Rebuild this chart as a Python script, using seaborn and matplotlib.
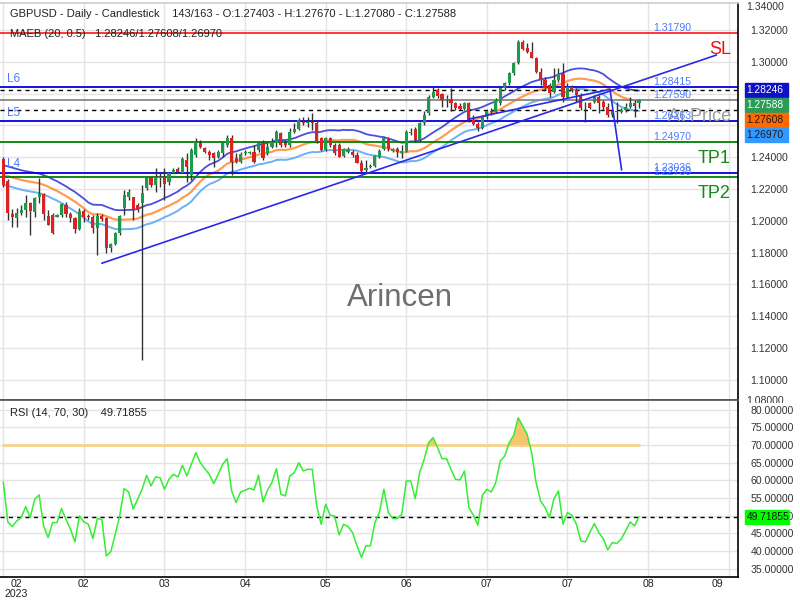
import numpy as np
import pandas as pd
import matplotlib
matplotlib.use("Agg")
import matplotlib.pyplot as plt
import seaborn as sns
from matplotlib.patches import Rectangle
from matplotlib.ticker import FuncFormatter
from matplotlib.transforms import blended_transform_factory, Bbox

# ---------------- data ----------------
opens = [1.2387, 1.2253, 1.2043, 1.2016, 1.2051, 1.2068, 1.2110, 1.2056, 1.2152, 1.2169,
         1.2030, 1.2037, 1.2026, 1.2037, 1.2100, 1.2043, 1.2016, 1.1947, 1.2064, 1.2030,
         1.2026, 1.1953, 1.2030, 1.2016, 1.1827, 1.1854, 1.1921, 1.2079, 1.2152, 1.2148,
         1.2100, 1.2110, 1.2204, 1.2267, 1.2225, 1.2269, 1.2273, 1.2246, 1.2303, 1.2324,
         1.2303, 1.2382, 1.2288, 1.2414, 1.2491, 1.2456, 1.2435, 1.2429, 1.2403, 1.2424,
         1.2477, 1.2523, 1.2393, 1.2372, 1.2424, 1.2429, 1.2433, 1.2445, 1.2491, 1.2424,
         1.2466, 1.2487, 1.2550, 1.2487, 1.2477, 1.2561, 1.2575, 1.2623, 1.2617, 1.2623,
         1.2617, 1.2519, 1.2445, 1.2519, 1.2477, 1.2477, 1.2408, 1.2435, 1.2435, 1.2414,
         1.2366, 1.2320, 1.2336, 1.2345, 1.2403, 1.2450, 1.2519, 1.2441, 1.2450, 1.2429,
         1.2441, 1.2550, 1.2575, 1.2508, 1.2613, 1.2676, 1.2781, 1.2823, 1.2796, 1.2762,
         1.2766, 1.2739, 1.2724, 1.2703, 1.2739, 1.2634, 1.2607, 1.2585, 1.2650, 1.2690,
         1.2682, 1.2739, 1.2834, 1.2865, 1.2928, 1.2991, 1.3122, 1.3085, 1.3064, 1.3026,
         1.2934, 1.2886, 1.2854, 1.2808, 1.2886, 1.2921, 1.2781, 1.2844, 1.2823, 1.2792,
         1.2718, 1.2739, 1.2750, 1.2781, 1.2750, 1.2718, 1.2666, 1.2691, 1.2682, 1.2697,
         1.2718, 1.2739, 1.27403]
highs = [1.2399, 1.2261, 1.2072, 1.2079, 1.2100, 1.2162, 1.2120, 1.2152, 1.2267, 1.2173,
         1.2068, 1.2047, 1.2041, 1.2110, 1.2120, 1.2058, 1.2026, 1.2079, 1.2072, 1.2041,
         1.2037, 1.2047, 1.2040, 1.2026, 1.1859, 1.1932, 1.2037, 1.2194, 1.2200, 1.2152,
         1.2110, 1.2225, 1.2278, 1.2278, 1.2330, 1.2299, 1.2330, 1.2309, 1.2330, 1.2341,
         1.2403, 1.2424, 1.2456, 1.2519, 1.2508, 1.2466, 1.2445, 1.2435, 1.2445, 1.2498,
         1.2540, 1.2540, 1.2424, 1.2435, 1.2445, 1.2440, 1.2477, 1.2498, 1.2508, 1.2487,
         1.2519, 1.2571, 1.2561, 1.2508, 1.2582, 1.2613, 1.2644, 1.2655, 1.2655, 1.2676,
         1.2634, 1.2529, 1.2529, 1.2529, 1.2487, 1.2487, 1.2456, 1.2466, 1.2445, 1.2435,
         1.2382, 1.2382, 1.2355, 1.2414, 1.2450, 1.2529, 1.2529, 1.2456, 1.2466, 1.2477,
         1.2571, 1.2582, 1.2592, 1.2623, 1.2692, 1.2790, 1.2844, 1.2834, 1.2802, 1.2792,
         1.2834, 1.2750, 1.2739, 1.2750, 1.2750, 1.2665, 1.2624, 1.2660, 1.2700, 1.2712,
         1.2770, 1.2840, 1.2875, 1.2935, 1.2998, 1.3137, 1.3137, 1.3116, 1.3127, 1.3033,
         1.2959, 1.2907, 1.2865, 1.2959, 1.2959, 1.2991, 1.2865, 1.2854, 1.2834, 1.2802,
         1.2750, 1.2750, 1.2792, 1.2792, 1.2760, 1.2739, 1.2697, 1.2750, 1.2708, 1.2739,
         1.2781, 1.2760, 1.27670]
lows = [1.2215, 1.2005, 1.1963, 1.1963, 1.2037, 1.2026, 1.1911, 1.2026, 1.2110, 1.2005,
        1.1972, 1.1917, 1.2022, 1.2026, 1.2026, 1.1995, 1.1921, 1.1942, 1.1995, 1.2005,
        1.1921, 1.1785, 1.2000, 1.1796, 1.1806, 1.1848, 1.1911, 1.2037, 1.2130, 1.2005,
        1.2058, 1.1124, 1.2194, 1.2215, 1.2183, 1.2215, 1.2131, 1.2225, 1.2299, 1.2299,
        1.2299, 1.2246, 1.2257, 1.2403, 1.2456, 1.2424, 1.2382, 1.2341, 1.2395, 1.2403,
        1.2466, 1.2288, 1.2361, 1.2366, 1.2414, 1.2420, 1.2361, 1.2435, 1.2382, 1.2414,
        1.2456, 1.2466, 1.2466, 1.2466, 1.2466, 1.2550, 1.2571, 1.2602, 1.2592, 1.2571,
        1.2487, 1.2441, 1.2441, 1.2466, 1.2414, 1.2399, 1.2403, 1.2424, 1.2403, 1.2361,
        1.2303, 1.2309, 1.2330, 1.2336, 1.2393, 1.2445, 1.2441, 1.2435, 1.2403, 1.2393,
        1.2435, 1.2540, 1.2498, 1.2498, 1.2602, 1.2665, 1.2771, 1.2771, 1.2718, 1.2718,
        1.2691, 1.2697, 1.2697, 1.2697, 1.2623, 1.2603, 1.2565, 1.2578, 1.2640, 1.2665,
        1.2675, 1.2730, 1.2825, 1.2855, 1.2920, 1.2984, 1.3074, 1.3053, 1.3022, 1.2928,
        1.2854, 1.2823, 1.2781, 1.2802, 1.2875, 1.2750, 1.2771, 1.2813, 1.2750, 1.2697,
        1.2624, 1.2703, 1.2739, 1.2676, 1.2697, 1.2655, 1.2655, 1.2613, 1.2676, 1.2682,
        1.2708, 1.2655, 1.27080]
closes = [1.2225, 1.2047, 1.2026, 1.2047, 1.2068, 1.2114, 1.2064, 1.2141, 1.2169, 1.2041,
          1.1976, 1.1921, 1.2035, 1.2104, 1.2041, 1.2020, 1.1947, 1.2064, 1.2026, 1.2022,
          1.1953, 1.2030, 1.2010, 1.1827, 1.1852, 1.1921, 1.2030, 1.2162, 1.2180, 1.2068,
          1.2068, 1.2173, 1.2267, 1.2225, 1.2273, 1.2273, 1.2232, 1.2299, 1.2320, 1.2309,
          1.2387, 1.2341, 1.2445, 1.2498, 1.2462, 1.2435, 1.2414, 1.2393, 1.2435, 1.2487,
          1.2523, 1.2372, 1.2372, 1.2420, 1.2433, 1.2433, 1.2372, 1.2487, 1.2393, 1.2466,
          1.2498, 1.2561, 1.2477, 1.2477, 1.2561, 1.2575, 1.2634, 1.2613, 1.2623, 1.2613,
          1.2498, 1.2445, 1.2519, 1.2477, 1.2424, 1.2403, 1.2450, 1.2450, 1.2414, 1.2366,
          1.2315, 1.2330, 1.2345, 1.2408, 1.2441, 1.2519, 1.2450, 1.2450, 1.2435, 1.2441,
          1.2561, 1.2561, 1.2508, 1.2613, 1.2665, 1.2781, 1.2813, 1.2787, 1.2760, 1.2766,
          1.2739, 1.2708, 1.2703, 1.2743, 1.2634, 1.2607, 1.2582, 1.2650, 1.2690, 1.2682,
          1.2760, 1.2834, 1.2865, 1.2928, 1.2991, 1.3122, 1.3081, 1.3064, 1.3026, 1.2934,
          1.2886, 1.2834, 1.2802, 1.2886, 1.2921, 1.2781, 1.2844, 1.2823, 1.2792, 1.2712,
          1.2714, 1.2712, 1.2781, 1.2739, 1.2718, 1.2666, 1.2691, 1.2682, 1.2697, 1.2718,
          1.2739, 1.2724, 1.27588]

# MAEB middle line for the first bars (before 20 closes are available in the window)
maeb_head = [1.2288, 1.2281, 1.2273, 1.2265, 1.2257, 1.2251, 1.2246, 1.2241, 1.2236, 1.2226,
             1.2215, 1.2201, 1.2188, 1.2172, 1.2156, 1.2138, 1.2121, 1.2100, 1.2079]
maeb_period = 20
maeb_pct = 0.5
maeb_last = [1.28246, 1.27608, 1.26970]   # upper / middle / lower shown in legend

rsi = [59.53, 48.21, 46.89, 48.49, 49.43, 52.55, 49.43, 54.62, 55.85, 47.08,
       43.77, 48.02, 48.02, 51.98, 48.96, 46.13, 42.55, 49.91, 48.21, 47.55,
       43.49, 49.15, 48.96, 38.58, 39.72, 44.72, 49.91, 57.64, 56.70, 51.79,
       54.62, 57.45, 61.42, 58.40, 60.94, 60.75, 57.45, 60.28, 61.70, 60.94,
       64.25, 61.23, 64.53, 67.83, 65.00, 63.30, 61.70, 59.06, 61.70, 64.53,
       66.13, 56.98, 53.68, 56.70, 57.17, 57.74, 57.26, 61.42, 53.87, 57.17,
       59.34, 63.30, 56.04, 55.57, 61.23, 62.17, 65.00, 62.64, 63.11, 63.11,
       52.74, 47.55, 53.21, 50.09, 49.91, 44.53, 47.55, 46.89, 45.19, 41.42,
       38.11, 41.42, 41.42, 48.02, 50.85, 57.45, 50.85, 49.15, 49.15, 50.38,
       59.81, 59.81, 54.81, 62.17, 65.94, 70.66, 72.08, 69.25, 66.13, 66.13,
       63.11, 60.28, 60.09, 62.64, 52.26, 50.09, 47.26, 55.75, 57.45, 56.70,
       59.34, 65.47, 66.89, 70.66, 72.74, 77.74, 75.38, 73.02, 67.83, 59.34,
       54.15, 52.26, 49.43, 54.81, 56.98, 47.55, 50.85, 50.09, 47.55, 42.83,
       42.55, 45.19, 47.74, 45.19, 43.49, 40.28, 42.36, 42.08, 43.30, 45.66,
       48.21, 47.08, 49.71855]
rsi_last = 49.71855
rsi_upper = 70

level_names = ["SL", "L6", "At Price", "L5", "TP1", "L4", "TP2"]
level_values = [1.31790, 1.28415, 1.27590, 1.26263, 1.24970, 1.23036, 1.22730]

# trend lines: (bar index, price) end points
trend_a = [(22.0, 1.1733), (159.3, 1.3043)]
trend_b = [(104.0, 1.2640), (135.5, 1.2827)]
trend_c = [(135.5, 1.2827), (138.1, 1.2320)]

x_labels = ["02\n2023", "02", "03", "04", "05", "06", "07", "07", "08", "09"]
x_grid = list(range(0, 163, 18))
x_label_pos = [2.9, 18, 36, 54, 72, 90, 108, 126, 144, 159.6]

title_text = "GBPUSD - Daily - Candlestick    143/163 - O:1.27403 - H:1.27670 - L:1.27080 - C:1.27588"

# ---------------- derived series ----------------
n = len(closes)
df = pd.DataFrame({"i": np.arange(n), "open": opens, "high": highs,
                   "low": lows, "close": closes, "rsi": rsi})
sma = df["close"].rolling(maeb_period).mean().to_numpy()
mid = np.concatenate([maeb_head, sma[len(maeb_head):]])
df["mid"] = mid
df["upper"] = mid * (1 + maeb_pct / 100)
df["lower"] = mid * (1 - maeb_pct / 100)

# ---------------- figure ----------------
sns.set_theme(style="white")
plt.rcParams["font.family"] = ["Liberation Sans", "DejaVu Sans"]

W, H = 800, 600
fig = plt.figure(figsize=(8, 6), dpi=100)
def fx(px): return px / W
def fy(py): return 1 - py / H

ax = fig.add_axes([0, fy(400), fx(738), fy(3) - fy(400)])
rax = fig.add_axes([0, fy(577), fx(738), fy(400) - fy(577)])

XMIN, XMAX = -0.74, 164.1
GRID = "#e4e4e4"
GREEN, RED = "#1f9a4c", "#dd2222"
LBLUE_TXT = "#4d79ff"

for a in (ax, rax):
    a.set_xlim(XMIN, XMAX)
    a.set_xticks(x_grid)
    a.set_xticklabels([])
    a.tick_params(axis="x", length=0)
    a.grid(True, color=GRID, lw=1)
    a.set_axisbelow(True)
    a.yaxis.tick_right()
    a.tick_params(axis="y", length=0, pad=9, labelsize=7.6, labelcolor="#333333")
    a.yaxis.set_major_formatter(FuncFormatter(lambda v, p: f"{v:.5f}"))
    a.spines["left"].set_visible(False)

ax.set_ylim(1.0873, 1.337)
ax.set_yticks(np.round(np.arange(1.10, 1.3301, 0.02), 2))
ax.spines["right"].set_color("black")
ax.spines["right"].set_linewidth(1.2)
ax.spines["top"].set_color("#cfcfcf")
ax.spines["bottom"].set_color("#555555")

# MAEB envelope
sns.lineplot(data=df, x="i", y="upper", ax=ax, color="#3a3ad8", lw=1.3, alpha=0.9, zorder=2)
sns.lineplot(data=df, x="i", y="mid", ax=ax, color="#ff8a35", lw=1.6, alpha=0.85, zorder=2)
sns.lineplot(data=df, x="i", y="lower", ax=ax, color="#5aaaf5", lw=1.4, alpha=0.9, zorder=2)
ax.set_xlabel(""); ax.set_ylabel("")

# horizontal levels
lvl_style = {
    "SL": dict(color="#ff0000", lw=1.1),
    "L6": dict(color="#0000dd", lw=1.3),
    "At Price": dict(color="#888888", lw=1.3),
    "L5": dict(color="#0000dd", lw=1.3),
    "TP1": dict(color="#008000", lw=1.3),
    "L4": dict(color="#0000dd", lw=1.3),
    "TP2": dict(color="#008000", lw=1.3),
}
for name, v in zip(level_names, level_values):
    ax.axhline(v, zorder=2.5, **lvl_style[name])
    ax.annotate(f"{v:.5f}", (145.1, v), xytext=(0, 0), textcoords="offset points",
                ha="left", va="bottom", fontsize=7.6, color=LBLUE_TXT, zorder=6)
    if name in ("L4", "L5", "L6"):
        ax.annotate(name, (0.9, v), xytext=(0, 1.5), textcoords="offset points",
                    ha="left", va="bottom", fontsize=8.5, color=LBLUE_TXT, zorder=6)
    if name in ("SL", "TP1", "TP2", "At Price"):
        col = {"SL": "#ee1111", "TP1": "#138a13", "TP2": "#138a13", "At Price": "#9a9a9a"}[name]
        ax.annotate(name, (162.5, v), xytext=(0, -5.6), textcoords="offset points",
                    ha="right", va="top", fontsize=13, color=col, zorder=6)

# MAEB last values dashed
for v in (maeb_last[0], maeb_last[2]):
    ax.axhline(v, color="black", lw=1, ls=(0, (3, 3)), zorder=2.6)

# candles
up = df["close"] >= df["open"]
cols = np.where(up, GREEN, RED)
ax.vlines(df["i"], df["low"], df["high"], color="#333333", lw=1.0, zorder=3)
body_h = np.maximum((df["close"] - df["open"]).abs(), 0.00012)
ax.bar(df["i"], body_h, bottom=np.minimum(df["open"], df["close"]), width=0.7,
       color=cols, linewidth=0, zorder=4)

# trend lines
for tl in (trend_a, trend_b, trend_c):
    (x0, y0), (x1, y1) = tl
    ax.plot([x0, x1], [y0, y1], color="#2a2ae6", lw=1.2, zorder=5)

# watermark
fig.text(fx(400), fy(298), "Arincen", ha="center", va="center", fontsize=22.5, color="#6e6e6e")

# headers
fig.text(fx(10), fy(14), title_text, ha="left", va="center", fontsize=8, color="#222222")
fig.text(fx(10), fy(34), f"MAEB ({maeb_period}, {maeb_pct})   "
         f"{maeb_last[0]:.5f}/{maeb_last[1]:.5f}/{maeb_last[2]:.5f}",
         ha="left", va="center", fontsize=8, color="#222222", zorder=1)
fig.text(fx(746), fy(7), "1.34000", ha="left", va="center", fontsize=7.6, color="#333333")
t108 = fig.text(fx(746), fy(401), "1.08000", ha="left", va="center", fontsize=7.6, color="#333333")
t108.set_clip_box(Bbox.from_extents(0, H - 403, W, H))
t108.set_clip_on(True)

# right value boxes
boxes = [(maeb_last[0], "#1010c8", "white"),
         (closes[-1], "#2b9c58", "white"),
         (maeb_last[1], "#ff6a00", "#1a1a1a"),
         (maeb_last[2], "#3399ff", "#1a1a1a")]
fig.canvas.draw()
prev = None
for v, bg, fg in boxes:
    yd = ax.transData.transform((0, v))[1]
    ypx = H - yd
    if prev is not None and ypx < prev + 15:
        ypx = prev + 15
    prev = ypx
    fig.add_artist(Rectangle((fx(745), fy(ypx + 7)), fx(43), 14 / H,
                             transform=fig.transFigure, color=bg, zorder=10))
    fig.text(fx(746.5), fy(ypx), f"{v:.5f}", ha="left", va="center",
             fontsize=7.4, color=fg, zorder=11)

# ---------------- RSI panel ----------------
rax.set_ylim(32.6, 82.75)
rax.set_yticks(np.arange(35, 81, 5))
rax.spines["right"].set_color("black")
rax.spines["right"].set_linewidth(1.2)
rax.spines["bottom"].set_color("black")
rax.spines["bottom"].set_linewidth(1.2)
rax.spines["top"].set_color("#555555")

r = df["rsi"].to_numpy()
rax.plot(df["i"], np.full(n, rsi_upper), color="#f6d28c", lw=2, zorder=2)
rax.fill_between(df["i"], r, rsi_upper, where=r > rsi_upper, interpolate=True,
                 color="#f7c56e", lw=0, zorder=2.5)
sns.lineplot(data=df, x="i", y="rsi", ax=rax, color="#33ee33", lw=1.1, zorder=3)
rax.axhline(rsi_last, color="black", lw=1, ls=(0, (3, 3)), zorder=2.6)
rax.set_xlabel(""); rax.set_ylabel("")

fig.text(fx(10), fy(413), f"RSI (14, {rsi_upper}, 30)    {rsi_last:.5f}", ha="left",
         va="center", fontsize=8, color="#222222")

yd = rax.transData.transform((0, rsi_last))[1]
ypx = H - yd
fig.add_artist(Rectangle((fx(745), fy(ypx + 7)), fx(44), 14 / H,
                         transform=fig.transFigure, color="#00ff00", zorder=10))
fig.text(fx(746.5), fy(ypx), f"{rsi_last:.5f}", ha="left", va="center",
         fontsize=7.4, color="#111111", zorder=11)

# x labels
trans = blended_transform_factory(rax.transData, fig.transFigure)
for pos, lab in zip(x_label_pos, x_labels):
    rax.text(pos, fy(577) - 2 / H, lab, transform=trans, ha="center", va="top",
             fontsize=7.6, color="#222222", linespacing=1.0)

fig.savefig("out.png", dpi=100)
